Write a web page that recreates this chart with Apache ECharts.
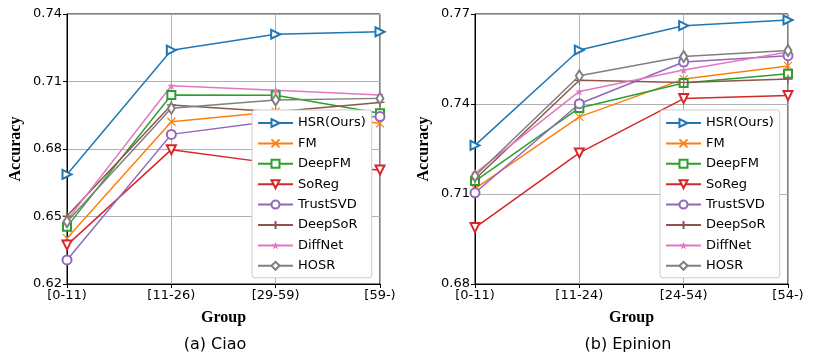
<!DOCTYPE html>
<html>
<head>
<meta charset="utf-8">
<script src="https://cdn.jsdelivr.net/npm/echarts@6/dist/echarts.min.js"></script>
<style>
  html, body { margin: 0; padding: 0; background: #fff; }
  #chart { width: 813px; height: 363px; }
</style>
</head>
<body>
<div id="chart"></div>
<script>
// groups on x axis
const ciaoGroups = ['[0-11)', '[11-26)', '[29-59)', '[59-)']
const epinionGroups = ['[0-11)', '[11-24)', '[24-54)', '[54-)']

const methods = ['HSR(Ours)', 'FM', 'DeepFM', 'SoReg', 'TrustSVD', 'DeepSoR', 'DiffNet', 'HOSR']

// accuracy, Ciao
const ciaoHSR = [0.6687, 0.7239, 0.7310, 0.7321]
const ciaoFM = [0.6403, 0.6921, 0.6966, 0.6914]
const ciaoDeepFM = [0.6455, 0.7040, 0.7039, 0.6959]
const ciaoSoReg = [0.6373, 0.6797, 0.6735, 0.6707]
const ciaoTrustSVD = [0.6307, 0.6865, 0.6926, 0.6944]
const ciaoDeepSoR = [0.6502, 0.6996, 0.6966, 0.7007]
const ciaoDiffNet = [0.6484, 0.7081, 0.7061, 0.7040]
const ciaoHOSR = [0.6477, 0.6981, 0.7018, 0.7025]

// accuracy, Epinion
const epHSR = [0.7262, 0.7580, 0.7661, 0.7680]
const epFM = [0.7118, 0.7357, 0.7483, 0.7527]
const epDeepFM = [0.7143, 0.7387, 0.7470, 0.7501]
const epSoReg = [0.6988, 0.7237, 0.7418, 0.7428]
const epTrustSVD = [0.7104, 0.7401, 0.7540, 0.7561]
const epDeepSoR = [0.7149, 0.7479, 0.7472, 0.7483]
const epDiffNet = [0.7169, 0.7442, 0.7513, 0.7573]
const epHOSR = [0.7160, 0.7494, 0.7558, 0.7578]

const ciaoValues = [ciaoHSR, ciaoFM, ciaoDeepFM, ciaoSoReg, ciaoTrustSVD, ciaoDeepSoR, ciaoDiffNet, ciaoHOSR]
const epValues = [epHSR, epFM, epDeepFM, epSoReg, epTrustSVD, epDeepSoR, epDiffNet, epHOSR]

const colors = ['#1f77b4', '#ff7f0e', '#2ca02c', '#d62728', '#9467bd', '#8c564b', '#e377c2', '#7f7f7f']

const STAR = 'path://M5,0L6.2,3.6L10,3.6L7,5.9L8.1,9.5L5,7.3L1.9,9.5L3,5.9L0,3.6L3.8,3.6Z'
const CROSS = 'path://M0,0L10,10M0,10L10,0'
const PLUS = 'path://M5,0L5,10M0,5L10,5'

// marker per method
const markers = [
    { symbol: 'emptyTriangle', symbolRotate: -90, symbolSize: 9 },
    { symbol: CROSS, symbolSize: 8, stroke: true },
    { symbol: 'emptyRect', symbolSize: 8 },
    { symbol: 'emptyTriangle', symbolRotate: 180, symbolSize: 9 },
    { symbol: 'emptyCircle', symbolSize: 9 },
    { symbol: PLUS, symbolSize: 9, stroke: true },
    { symbol: STAR, symbolSize: 8 },
    { symbol: 'emptyDiamond', symbolSize: [7, 11] }
]

function makeSeries(values, idx) {
    return methods.map((name, i) => {
        const m = markers[i]
        const itemStyle = m.stroke
            ? { color: colors[i], borderColor: colors[i], borderWidth: 1.2 }
            : { color: colors[i], borderWidth: 1 }
        return {
            name: name,
            type: 'line',
            xAxisIndex: idx,
            yAxisIndex: idx,
            data: values[i],
            symbol: m.symbol,
            symbolSize: m.symbolSize,
            symbolRotate: m.symbolRotate || 0,
            showAllSymbol: true,
            lineStyle: { color: colors[i], width: 1.5 },
            itemStyle: itemStyle,
            emphasis: { disabled: true },
            animation: false
        }
    })
}

const tickFont = { fontFamily: 'DejaVu Sans', fontSize: 13, color: '#000' }
const nameFont = { fontFamily: 'Liberation Serif', fontSize: 16, fontWeight: 'bold', color: '#000' }

function xAxisOf(groups, idx) {
    return {
        type: 'category',
        gridIndex: idx,
        data: groups,
        boundaryGap: false,
        name: 'Group',
        nameLocation: 'middle',
        nameGap: 26,
        nameTextStyle: nameFont,
        axisLine: { lineStyle: { color: '#000', width: 1 } },
        axisTick: { show: true, inside: false, length: 4, lineStyle: { color: '#000' } },
        axisLabel: Object.assign({ margin: 5 }, tickFont),
        splitLine: { show: true, lineStyle: { color: '#b0b0b0', width: 1 } }
    }
}

function yAxisOf(min, max, idx) {
    return {
        type: 'value',
        gridIndex: idx,
        min: min,
        max: max,
        interval: 0.03,
        name: 'Accuracy',
        nameLocation: 'middle',
        nameGap: 43,
        nameTextStyle: nameFont,
        axisLine: { show: true, lineStyle: { color: '#000', width: 1 } },
        axisTick: { show: true, inside: false, length: 4, lineStyle: { color: '#000' } },
        axisLabel: Object.assign({ margin: 5, formatter: v => v.toFixed(2) }, tickFont),
        splitLine: { show: true, lineStyle: { color: '#b0b0b0', width: 1 } }
    }
}

function legendOf(left) {
    return {
        data: methods,
        orient: 'vertical',
        left: left,
        top: 110,
        itemWidth: 35,
        itemHeight: 10,
        itemGap: 6.4,
        padding: [6, 6, 5, 5],
        backgroundColor: '#fff',
        borderColor: '#cccccc',
        borderWidth: 1,
        borderRadius: 3,
        selectedMode: false,
        textStyle: { fontFamily: 'DejaVu Sans', fontSize: 13, color: '#000', lineHeight: 14 }
    }
}

const chart = echarts.init(document.getElementById('chart'), null, { renderer: 'canvas' })
chart.setOption({
    backgroundColor: '#fff',
    animation: false,
    grid: [
        { left: 67, right: 433, top: 14, bottom: 79, show: true, borderColor: '#000', borderWidth: 1, backgroundColor: 'transparent' },
        { left: 475, right: 25, top: 14, bottom: 79, show: true, borderColor: '#000', borderWidth: 1, backgroundColor: 'transparent' }
    ],
    xAxis: [xAxisOf(ciaoGroups, 0), xAxisOf(epinionGroups, 1)],
    yAxis: [yAxisOf(0.62, 0.74, 0), yAxisOf(0.68, 0.77, 1)],
    legend: [legendOf(252), legendOf(660)],
    graphic: [
        { type: 'text', x: 215, y: 345, style: { text: '(a) Ciao', fontFamily: 'DejaVu Sans', fontSize: 16, fill: '#000', textAlign: 'center', textVerticalAlign: 'middle' } },
        { type: 'text', x: 628, y: 345, style: { text: '(b) Epinion', fontFamily: 'DejaVu Sans', fontSize: 16, fill: '#000', textAlign: 'center', textVerticalAlign: 'middle' } }
    ],
    series: makeSeries(ciaoValues, 0).concat(makeSeries(epValues, 1))
})
</script>
</body>
</html>
